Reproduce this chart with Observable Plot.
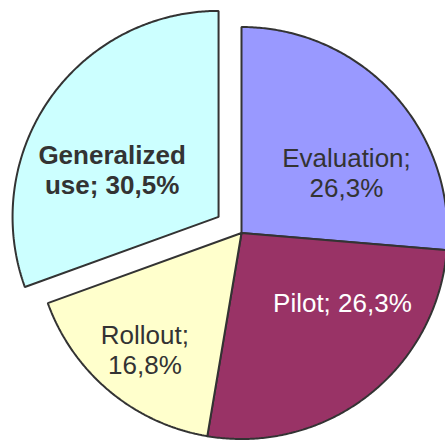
<!DOCTYPE html>
<html>
<head>
<meta charset="utf-8">
<script src="https://cdn.jsdelivr.net/npm/d3@7"></script>
<script src="https://cdn.jsdelivr.net/npm/@observablehq/plot@0.6"></script>
<style>
  html, body { margin: 0; padding: 0; background: #fff; }
  #chart svg { display: block; }
</style>
</head>
<body>
<div id="chart"></div>
<script>
// ---- data ----
const categories = ["Evaluation", "Pilot", "Rollout", "Generalized use"];
const values = [26.3, 26.3, 16.8, 30.5];
const labels = ["Evaluation;\n26,3%", "Pilot; 26,3%", "Rollout;\n16,8%", "Generalized\nuse; 30,5%"];

// ---- style / layout ----
const colors = ["#9999FF", "#993366", "#FFFFCC", "#CCFFFF"];
const textColors = ["#333333", "#FFFFFF", "#333333", "#333333"];
const bold = [false, false, false, true];
const explode = [0, 0, 0, 0.136];          // in radius units
// label placement inside each slice: fraction of slice angle, fraction of radius
const labelAngleFrac = [0.632, 0.313, 0.497, 0.40];
const labelRadius = [0.589, 0.594, 0.735, 0.566];

const arcs = d3.pie().sort(null).value(d => d)(values);

const polar = (a, r) => [r * Math.sin(a), r * Math.cos(a)];

const slicePts = [];
const labelRows = [];
arcs.forEach((arc, i) => {
  const mid = (arc.startAngle + arc.endAngle) / 2;
  const [ox, oy] = polar(mid, explode[i]);
  slicePts.push({k: i, x: ox, y: oy});
  const steps = Math.max(2, Math.ceil((arc.endAngle - arc.startAngle) / (Math.PI / 360)));
  for (let s = 0; s <= steps; s++) {
    const a = arc.startAngle + (arc.endAngle - arc.startAngle) * s / steps;
    const [px, py] = polar(a, 1);
    slicePts.push({k: i, x: ox + px, y: oy + py});
  }
  const la = arc.startAngle + (arc.endAngle - arc.startAngle) * labelAngleFrac[i];
  const [lx, ly] = polar(la, labelRadius[i]);
  labelRows.push({k: i, x: ox + lx, y: oy + ly, text: labels[i], color: textColors[i], bold: bold[i]});
});

const textCommon = {
  x: "x", y: "y", text: "text", fill: "color",
  fontFamily: "'Liberation Sans', Arial, sans-serif",
  fontSize: 26, lineHeight: 1.15, textAnchor: "middle"
};

const chart = Plot.plot({
  width: 445,
  height: 441,
  margin: 0,
  x: {domain: [-1, 1], range: [35, 447], axis: null},
  y: {domain: [-1, 1], range: [438.5, 26.5], axis: null},
  color: {type: "identity"},
  style: {background: "#fff"},
  marks: [
    Plot.line(slicePts, {
      x: "x", y: "y", z: "k",
      fill: d => colors[d.k],
      stroke: "#333333", strokeWidth: 2,
      curve: "linear-closed",
      strokeLinejoin: "miter"
    }),
    Plot.text(labelRows.filter(d => !d.bold), textCommon),
    Plot.text(labelRows.filter(d => d.bold), {...textCommon, fontWeight: "bold"})
  ]
});
document.getElementById("chart").appendChild(chart);
</script>
</body>
</html>
